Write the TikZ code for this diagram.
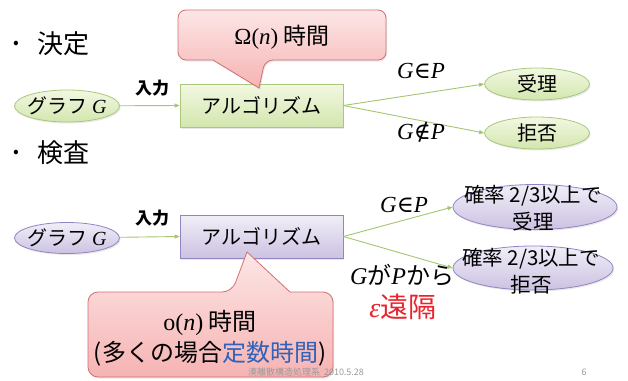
\RequirePackage{fix-cm}
\documentclass[tikz,border=0pt]{standalone}
\usepackage[no-math]{fontspec}
\setmainfont{Noto Sans CJK JP}
\newfontfamily\serf{Liberation Serif}
\newfontfamily\symf{DejaVu Serif}
\newcommand{\mi}[1]{{\serf\itshape #1}}
\newcommand{\mr}[1]{{\serf #1}}
\usetikzlibrary{shapes.geometric,arrows.meta,shadows}
\definecolor{gtop}{HTML}{F2F8E2}
\definecolor{gbot}{HTML}{D3E6AE}
\definecolor{gbord}{HTML}{A9C87C}
\definecolor{ltop}{HTML}{F1EEF8}
\definecolor{lbot}{HTML}{CCC2E2}
\definecolor{lbord}{HTML}{9385C2}
\definecolor{ptop}{HTML}{FDE6E6}
\definecolor{pbot}{HTML}{F6B3B3}
\definecolor{pbord}{HTML}{D2706F}
\definecolor{edgec}{HTML}{A3C66E}
\definecolor{epsred}{HTML}{E8232B}
\definecolor{jblue}{HTML}{2F62B8}
\definecolor{footg}{HTML}{9A9A9A}
\tikzset{
  shd/.style={drop shadow={opacity=0.18,shadow xshift=1.2pt,shadow yshift=-1.5pt}},
  greenfill/.style={top color=gtop,bottom color=gbot,draw=gbord,line width=0.8pt},
  lavfill/.style={top color=ltop,bottom color=lbot,draw=lbord,line width=0.8pt},
  algbox/.style={rectangle,minimum width=163pt,minimum height=43pt,inner sep=0pt,shd,font=\fontsize{20}{22}\selectfont},
  oval/.style={ellipse,minimum width=105pt,minimum height=32pt,inner sep=-12pt,shd,font=\fontsize{20}{22}\selectfont},
  bigoval/.style={ellipse,minimum width=164pt,minimum height=45pt,inner sep=0pt,shd,lavfill},
  ovaltext/.style={align=center,font=\fontsize{20.5}{27}\selectfont},
  conn/.style={draw=edgec,line width=0.9pt,-{Triangle[length=5pt,width=4pt]}},
  lab/.style={font=\fontsize{23}{26}\selectfont},
  smalllab/.style={font=\bfseries\fontsize{17}{19}\selectfont},
  bullet/.style={font=\fontsize{26}{28}\selectfont},
  callout/.style={top color=ptop,bottom color=pbot,draw=pbord,line width=0.8pt,shd},
  calltext/.style={font=\fontsize{23}{31}\selectfont,align=center},
  foot/.style={font=\fontsize{9}{11}\selectfont,text=footg}
}
\begin{document}
\begin{tikzpicture}[x=1pt,y=-1pt]
\useasboundingbox (0,0) rectangle (628,380);
% bullets
\node[font=\fontsize{17}{20}\selectfont] (d1) at (16,45) {•};
\node[bullet,anchor=west,inner sep=0pt] (b1) at (37,44) {決定};
\node[font=\fontsize{17}{20}\selectfont] (d2) at (16,154) {•};
\node[bullet,anchor=west,inner sep=0pt] (b2) at (37,153) {検査};
% top diagram
\node[oval,greenfill] (g1) at (67,106) {グラフ \mi{G}};
\node[algbox,greenfill] (a1) at (261.5,105.5) {アルゴリズム};
\node[oval,greenfill] (acc) at (537,84) {受理};
\node[oval,greenfill] (rej) at (537,133) {拒否};
\draw[conn] (g1) -- (a1.west);
\draw[conn] (a1.east) -- (acc.west);
\draw[conn] (a1.east) -- (rej.west);
\node[smalllab] (in1) at (152,88) {入力};
\node[lab] (l1) at (421,71) {\mi{G}{\symf∈}\mi{P}};
\node[lab] (l2) at (421,132) {\mi{G}{\symf∉}\mi{P}};
% top callout
\path[callout,rounded corners=8pt] (178,10) -- (386,10) -- (386,60) -- (265,60) [sharp corners] -- (259,88) -- (213,60) [rounded corners=8pt] -- (178,60) -- cycle;
\node[calltext] (c1) at (282,37) {\mr{Ω(}\mi{n}\mr{)} 時間};
% bottom diagram
\node[oval,lavfill,minimum height=31pt] (g2) at (67,238) {グラフ \mi{G}};
\node[algbox,lavfill] (a2) at (261.5,236.5) {アルゴリズム};
\node[bigoval] (pacc) at (535,207) {};
\node[bigoval,minimum width=160pt,minimum height=44pt] (prej) at (533,268) {};
\node[ovaltext] (tacc) at (533,208) {確率 2/3以上で\\受理};
\node[ovaltext] (trej) at (531,271) {確率 2/3以上で\\拒否};
\draw[conn] (g2) -- (a2.west);
\draw[conn] (a2.east) -- (pacc.west);
\draw[conn] (a2.east) -- (prej.west);
\node[smalllab] (in2) at (152,218) {入力};
\node[lab] (l3) at (404,205) {\mi{G}{\symf∈}\mi{P}};
\node[lab,font=\fontsize{24}{26}\selectfont] (l4) at (402,275) {\mi{G}が\mi{P}から};
\node[font=\fontsize{28}{30}\selectfont,text=epsred] (l5) at (403,307) {\mi{ε}遠隔};
% bottom callout
\path[callout,rounded corners=10pt] (88,292) -- (232,292) [sharp corners] -- (247,252) -- (290,292) [rounded corners=10pt] -- (333,292) -- (333,377) -- (88,377) -- cycle;
\node[calltext,font=\fontsize{24}{31}\selectfont] (c2) at (210,338) {\mr{o(}\mi{n}\mr{)} 時間\\(多くの場合\textcolor{jblue}{定数時間})};
% footer
\node[foot] (ft) at (306,372) {湊離散構造処理系\hspace{4pt}2010.5.28};
\node[foot] (pg) at (584,372) {6};
\end{tikzpicture}
\end{document}
